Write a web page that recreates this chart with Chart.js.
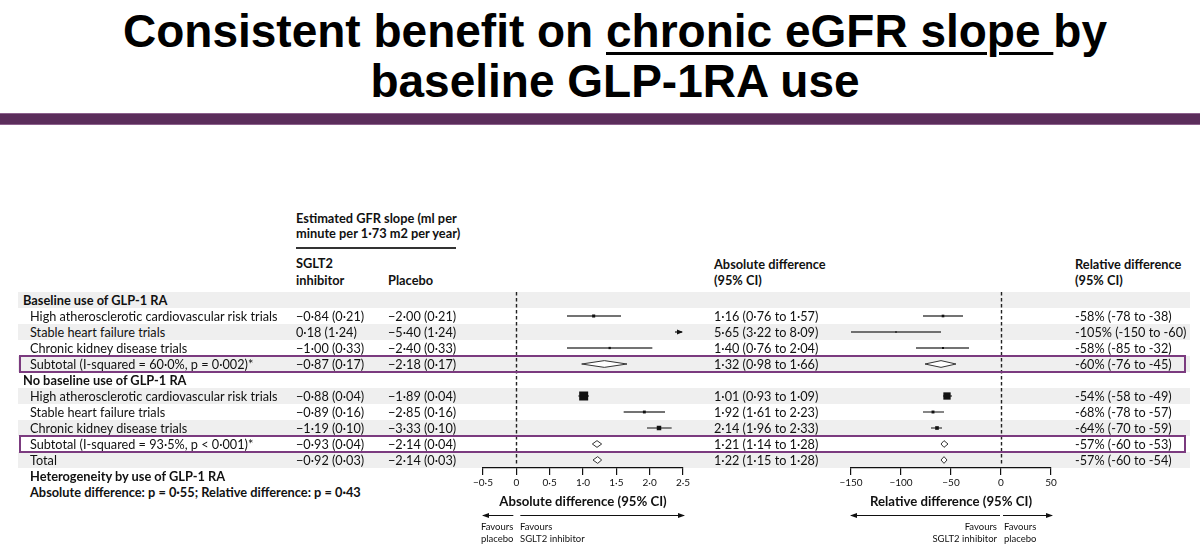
<!DOCTYPE html>
<html>
<head>
<meta charset="utf-8">
<script src="https://cdn.jsdelivr.net/npm/chart.js@4.4.1/dist/chart.umd.min.js"></script>
<style>
html,body{margin:0;padding:0;background:#fff;}
#page{position:relative;width:1200px;height:549px;overflow:hidden;font-family:Lato,"Noto Sans",sans-serif;color:#111;}
#title{position:absolute;left:15px;top:6px;width:1200px;text-align:center;font-family:"Liberation Sans",Arial,sans-serif;font-weight:bold;font-size:46px;line-height:50px;color:#000;}
#title u{text-decoration-thickness:3px;text-underline-offset:5px;}
#band{position:absolute;left:0;top:113px;width:1200px;height:12px;background:#5b2d5b;border-top:1px solid #8d618d;border-bottom:1px solid #8d618d;box-sizing:border-box;}
.row{position:absolute;left:18px;width:1172px;height:16px;background:#efefef;z-index:1;}
.box{position:absolute;left:19px;width:1167px;border:2px solid #7b3b7f;box-sizing:border-box;z-index:3;pointer-events:none;}
canvas{position:absolute;z-index:2;}
.t{position:absolute;white-space:nowrap;font-size:12.7px;line-height:16px;z-index:4;}
.b{font-weight:bold;font-size:12.8px;}
.s{font-size:9.5px;line-height:12px;}
.rule{position:absolute;left:296px;width:160px;top:247px;height:1.5px;background:#333;z-index:4;}
</style>
</head>
<body>
<div id="page">
  <div id="title">Consistent benefit on <u>chronic eGFR slope </u>by<br>baseline GLP-1RA use</div>
  <div id="band"></div>
  <div class="rule"></div>
  <canvas id="absChart" width="240" height="279" style="left:463px;top:270px;"></canvas>
  <canvas id="relChart" width="240" height="279" style="left:831px;top:270px;"></canvas>
</div>
<script>
// ---------------- DATA ----------------
const rowLabels = [
  'Baseline use of GLP-1 RA',
  'High atherosclerotic cardiovascular risk trials',
  'Stable heart failure trials',
  'Chronic kidney disease trials',
  'Subtotal (I-squared = 60·0%, p = 0·002)*',
  'No baseline use of GLP-1 RA',
  'High atherosclerotic cardiovascular risk trials',
  'Stable heart failure trials',
  'Chronic kidney disease trials',
  'Subtotal (I-squared = 93·5%, p < 0·001)*',
  'Total'
];
const rowKinds = ['group','study','study','study','subtotal','group','study','study','study','subtotal','total'];

const sgltSlope    = [null, -0.84, 0.18, -1.00, -0.87, null, -0.88, -0.89, -1.19, -0.93, -0.92];
const placeboSlope = [null, -2.00, -5.40, -2.40, -2.18, null, -1.89, -2.85, -3.33, -2.14, -2.14];
const slopeSE      = [null, 0.21, 1.24, 0.33, 0.17, null, 0.04, 0.16, 0.10, 0.04, 0.03];

const absDiff = [null, 1.16, 5.65, 1.40, 1.32, null, 1.01, 1.92, 2.14, 1.21, 1.22];
const absLow  = [null, 0.76, 3.22, 0.76, 0.98, null, 0.93, 1.61, 1.96, 1.14, 1.15];
const absHigh = [null, 1.57, 8.09, 2.04, 1.66, null, 1.09, 2.23, 2.33, 1.28, 1.28];

const relDiff = [null, -58, -105, -58, -60, null, -54, -68, -64, -57, -57];
const relLow  = [null, -78, -150, -85, -76, null, -58, -78, -70, -60, -60];
const relHigh = [null, -38,  -60, -32, -45, null, -49, -57, -59, -53, -54];

// relative study weight (marker size)
const absWeight = [null, 0.34, 0.2, 0.25, null, null, 1.0, 0.32, 0.5, null, null];
const relWeight = [null, 0.36, 0.2, 0.28, null, null, 1.0, 0.4, 0.5, null, null];

const absTicks = [-0.5, 0, 0.5, 1.0, 1.5, 2.0, 2.5];
const absTickLabels = ['−0·5', '0', '0·5', '1·0', '1·5', '2·0', '2·5'];
const relTicks = [-150, -100, -50, 0, 50];
const relTickLabels = ['−150', '−100', '−50', '0', '50'];

const heterogeneity = ['Heterogeneity by use of GLP-1 RA', 'Absolute difference: p = 0·55; Relative difference: p = 0·43'];

// ---------------- LAYOUT / TEXT ----------------
const page = document.getElementById('page');
const ROW_TOP = 292, ROW_H = 16;
function rowTop(i){ return ROW_TOP + ROW_H * i; }
function addText(txt, x, yc, cls, align){
  const d = document.createElement('div');
  d.className = 't ' + (cls || '');
  d.textContent = txt;
  const lh = (cls && cls.indexOf('s') >= 0) ? 12 : 16;
  d.style.top = (yc - lh/2) + 'px';
  if (align === 'right') d.style.right = (1200 - x) + 'px'; else d.style.left = x + 'px';
  page.appendChild(d);
}
function fmt(v){ return v.toFixed(2).replace('-', '−').replace('.', '·'); }
function fmtRel(v){ return String(v); }

rowLabels.forEach((lab, i) => {
  if (i % 2 === 0) {
    const r = document.createElement('div'); r.className = 'row'; r.style.top = rowTop(i) + 'px'; page.appendChild(r);
  }
  const kind = rowKinds[i];
  const yc = rowTop(i) + ROW_H/2;
  if (kind === 'group') { addText(lab, 23, yc, 'b'); return; }
  addText(lab, 30, yc);
  addText(fmt(sgltSlope[i]) + ' (' + fmt(slopeSE[i]) + ')', 296, yc);
  addText(fmt(placeboSlope[i]) + ' (' + fmt(slopeSE[i]) + ')', 388, yc);
  addText(fmt(absDiff[i]) + ' (' + fmt(absLow[i]) + ' to ' + fmt(absHigh[i]) + ')', 714, yc);
  addText(fmtRel(relDiff[i]) + '% (' + fmtRel(relLow[i]) + ' to ' + fmtRel(relHigh[i]) + ')', 1075, yc);
  if (kind === 'subtotal') {
    const b = document.createElement('div'); b.className = 'box';
    b.style.top = (rowTop(i) - 1) + 'px'; b.style.height = (ROW_H + 2) + 'px'; page.appendChild(b);
  }
});
addText(heterogeneity[0], 30, 476, 'b');
addText(heterogeneity[1], 30, 492, 'b');

addText('Estimated GFR slope (ml per', 296, 218, 'b');
addText('minute per 1·73 m2 per year)', 296, 233, 'b');
addText('SGLT2', 296, 263, 'b');
addText('inhibitor', 296, 280, 'b');
addText('Placebo', 388, 280, 'b');
addText('Absolute difference', 714, 264, 'b');
addText('(95% CI)', 714, 280, 'b');
addText('Relative difference', 1075, 264, 'b');
addText('(95% CI)', 1075, 280, 'b');

addText('Favours', 481, 527, 's'); addText('placebo', 481, 539, 's');
addText('Favours', 520, 527, 's'); addText('SGLT2 inhibitor', 520, 539, 's');
addText('Favours', 997, 527, 's', 'right'); addText('SGLT2 inhibitor', 997, 539, 's', 'right');
addText('Favours', 1004, 527, 's'); addText('placebo', 1004, 539, 's');

// ---------------- CHARTS ----------------
function arrow(ctx, x1, x2, y, head){
  ctx.beginPath(); ctx.moveTo(x1, y); ctx.lineTo(x2, y); ctx.stroke();
  const dir = x2 > x1 ? 1 : -1;
  ctx.beginPath(); ctx.moveTo(x2 + dir*1, y); ctx.lineTo(x2 - dir*head, y - 2.6); ctx.lineTo(x2 - dir*head, y + 2.6); ctx.closePath(); ctx.fill();
}

const forestExtras = {
  id: 'forestExtras',
  beforeDatasetsDraw(chart, args, o){
    const {ctx, chartArea} = chart; const xs = chart.scales.x;
    const x = Math.round(xs.getPixelForValue(0)) + 0.5;
    ctx.save(); ctx.strokeStyle = '#222'; ctx.lineWidth = 1.4; ctx.setLineDash([3.5, 2.5]);
    ctx.beginPath(); ctx.moveTo(x, chartArea.top); ctx.lineTo(x, chartArea.bottom - 2); ctx.stroke(); ctx.restore();
  },
  afterDatasetsDraw(chart, args, o){
    const {ctx} = chart; const xs = chart.scales.x, ys = chart.scales.y;
    ctx.save(); ctx.strokeStyle = '#111'; ctx.fillStyle = '#111'; ctx.lineWidth = 1.2;
    o.est.forEach((v, i) => {
      if (v !== null && rowKinds[i] === 'study' && o.lo[i] > xs.max) {
        const xe = xs.getPixelForValue(xs.max); const y = ys.getPixelForValue(i);
        arrow(ctx, xe - 8, xe - 1, y, 5);
      }
    });
    ctx.restore();
  },
  afterDraw(chart, args, o){
    const {ctx, chartArea} = chart; const xs = chart.scales.x;
    const y = chartArea.bottom + 47.5;
    const x0 = xs.getPixelForValue(0);
    ctx.save(); ctx.strokeStyle = '#111'; ctx.fillStyle = '#111'; ctx.lineWidth = 1;
    arrow(ctx, x0 + o.leftGap, xs.getPixelForValue(xs.min), y, 6);
    arrow(ctx, x0 + o.rightGap, xs.getPixelForValue(xs.max) + 1, y, 6);
    ctx.restore();
  }
};

function forestChart(id, est, lo, hi, weight, boxMax, min, max, ticks, tickLabels, title, gaps){
  const sq = [], sqR = [];
  rowKinds.forEach((k, i) => {
    if (k === 'study' && est[i] >= min && est[i] <= max) {
      sq.push({x: est[i], y: i});
      sqR.push(Math.max(weight[i] * boxMax, 1.6) / Math.SQRT2);
    }
  });
  const datasets = [{
    type: 'scatter', data: sq, pointStyle: 'rect', pointRadius: sqR, pointHoverRadius: sqR,
    backgroundColor: '#111', borderColor: '#111', borderWidth: 0, order: 0
  }];
  rowKinds.forEach((k, i) => {
    if (k === 'study') {
      datasets.push({type: 'scatter', showLine: true, data: [{x: lo[i], y: i}, {x: hi[i], y: i}],
        borderColor: '#444', borderWidth: 1.3, pointRadius: 0, pointHoverRadius: 0, order: 2});
    } else if (k === 'subtotal' || k === 'total') {
      const h = 0.21;
      datasets.push({type: 'scatter', showLine: true,
        data: [{x: lo[i], y: i}, {x: est[i], y: i - h}, {x: hi[i], y: i}, {x: est[i], y: i + h}, {x: lo[i], y: i}],
        borderColor: '#333', borderWidth: 1, backgroundColor: '#ffffff', fill: 'shape', tension: 0,
        pointRadius: 0, pointHoverRadius: 0, order: 1});
    }
  });
  return new Chart(document.getElementById(id), {
    type: 'scatter',
    data: {datasets},
    options: {
      responsive: false, animation: false, devicePixelRatio: 1,
      layout: {padding: {left: 20, right: 20, top: 22, bottom: 39}},
      plugins: {legend: {display: false}, tooltip: {enabled: false},
        forestExtras: {est, lo, hi, leftGap: gaps[0], rightGap: gaps[1]}},
      scales: {
        y: {type: 'linear', min: -0.5, max: 10.5, reverse: true, display: false},
        x: {
          type: 'linear', min, max, position: 'bottom',
          afterBuildTicks: (s) => { s.ticks = ticks.map(v => ({value: v})); },
          afterFit: (s) => { s.height = 42; },
          ticks: {autoSkip: false, maxRotation: 0, padding: 2, color: '#111',
            font: {family: 'Lato', size: 10}, callback: (v, idx) => tickLabels[idx]},
          grid: {drawOnChartArea: false, drawTicks: true, tickLength: 7, color: '#111', lineWidth: 1.2},
          border: {display: true, color: '#111', width: 1.3},
          title: {display: true, text: title, color: '#111', padding: 0,
            font: {family: 'Lato', size: 13.2, weight: 'bold'}}
        }
      }
    },
    plugins: [forestExtras]
  });
}

forestChart('absChart', absDiff, absLow, absHigh, absWeight, 9, -0.5, 2.5, absTicks, absTickLabels,
  'Absolute difference (95% CI)', [-3, 4]);
forestChart('relChart', relDiff, relLow, relHigh, relWeight, 7.3, -150, 50, relTicks, relTickLabels,
  'Relative difference (95% CI)', [-1, 2]);
</script>
</body>
</html>
